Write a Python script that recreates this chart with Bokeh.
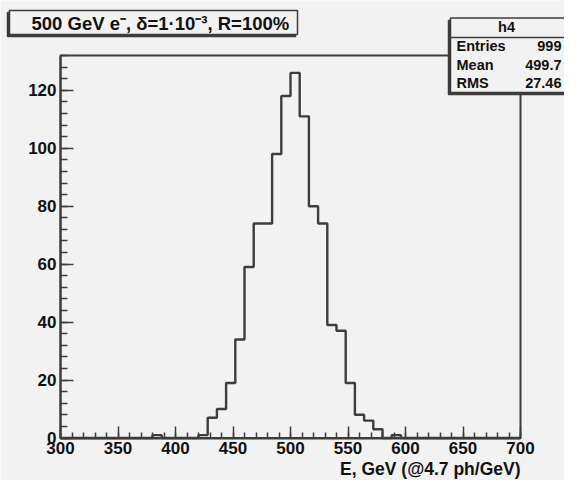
import numpy as np
from bokeh.plotting import figure
from bokeh.models import BoxAnnotation, Label, SingleIntervalTicker, Range1d
from bokeh.embed import file_html
from bokeh.resources import INLINE

# ---- data (histogram h4: 50 bins from 300 to 700 GeV) ----
x_low, x_high, n_bins = 300, 700, 50
y_top = 132
counts = [0, 0, 0, 0, 0, 0, 0, 0, 0, 0,
          1, 0, 0, 0, 0, 1, 7, 10, 19, 34,
          59, 74, 74, 98, 118, 126, 111, 80, 74, 39,
          37, 19, 8, 6, 3, 0, 1, 0, 0, 0,
          0, 0, 0, 0, 0, 0, 0, 0, 0, 0]
title_text = "500 GeV e\u207b, \u03b4=1\u00b710\u207b\u00b3, R=100%"
hist_name = "h4"
stat_names = ["Entries", "Mean", "RMS"]
stat_values = ["999", "499.7", "27.46"]
x_title = "E, GeV (@4.7 ph/GeV)"

edges = np.linspace(x_low, x_high, n_bins + 1)
step_y = list(counts) + [counts[-1]]

# ---- layout (canvas pixels, y downward) ----
W, H = 564, 480
FL, FR, FT, FB = 60.0, 520.0, 55.0, 437.5      # histogram frame
kx = (FR - FL) / (x_high - x_low)
ky = (FB - FT) / y_top
xr = Range1d(x_low - FL / kx, x_high + (W - FR) / kx)
yr = Range1d(0 - (H - FB) / ky, y_top + FT / ky)

BG = "#f2f2f2"
LINE = "#3d3d3d"
TXT = "#111111"
FONT = "Liberation Sans"

p = figure(width=W, height=H, x_range=xr, y_range=yr,
           output_backend="svg", toolbar_location=None,
           min_border=0, min_border_left=0, min_border_right=0,
           min_border_top=0, min_border_bottom=0)
p.background_fill_color = BG
p.border_fill_color = BG
p.outline_line_color = None
p.xgrid.visible = False
p.ygrid.visible = False

p.xaxis.fixed_location = 0
p.xaxis.bounds = (x_low, x_high)
p.yaxis.fixed_location = x_low
p.yaxis.bounds = (0, y_top)
p.xaxis.ticker = SingleIntervalTicker(interval=50, num_minor_ticks=5)
p.yaxis.ticker = SingleIntervalTicker(interval=20, num_minor_ticks=5)
for ax, tin, tmin in ((p.xaxis, 12, 6), (p.yaxis, 13, 7)):
    ax.major_tick_in = tin
    ax.major_tick_out = 0
    ax.minor_tick_in = tmin
    ax.minor_tick_out = 0
    ax.axis_line_color = LINE
    ax.axis_line_width = 2
    ax.major_tick_line_color = LINE
    ax.major_tick_line_width = 1.5
    ax.minor_tick_line_color = LINE
    ax.minor_tick_line_width = 1.5
    ax.major_label_text_font = FONT
    ax.major_label_text_font_style = "bold"
    ax.major_label_text_font_size = "17px"
    ax.major_label_text_color = TXT
p.xaxis.major_label_standoff = 4
p.yaxis.major_label_standoff = 4

# frame box in data units
p.add_layout(BoxAnnotation(left=x_low, right=x_high, bottom=0, top=y_top,
                           fill_alpha=0, line_color=LINE, line_width=2,
                           line_alpha=1, level="underlay"))

p.step(x=edges, y=step_y, mode="after", line_color=LINE, line_width=2.4)


def box(l, r, t, b, fill, line, lw=1.5):
    # canvas px (y down) -> screen units (frame == canvas, y up)
    return BoxAnnotation(left=l, right=r, top=H - t, bottom=H - b,
                         left_units="screen", right_units="screen",
                         top_units="screen", bottom_units="screen",
                         fill_color=fill if fill else "white",
                         fill_alpha=1 if fill else 0,
                         line_color=line, line_width=lw, line_alpha=1)


def label(x, y, text, size, align="left"):
    return Label(x=x, y=H - y, x_units="screen", y_units="screen",
                 text=text, text_font=FONT, text_font_style="bold",
                 text_font_size=size, text_color=TXT,
                 text_align=align, text_baseline="middle")


# title box
p.add_layout(box(7, 295, 12, 36, LINE, LINE))
p.add_layout(box(9, 297, 10, 34, BG, LINE))
p.add_layout(label(31, 22.5, title_text, "18.5px"))

# stats box
p.add_layout(box(448, 566, 20, 94, LINE, LINE))
p.add_layout(box(450, 568, 17.5, 92, BG, LINE))
p.add_layout(box(450, 568, 37, 37, None, LINE))
p.add_layout(label(506, 26.5, hist_name, "14.5px", "center"))
for name, val, yc in zip(stat_names, stat_values, [45, 64.5, 82.5]):
    p.add_layout(label(456, yc, name, "14.5px"))
    p.add_layout(label(561, yc, val, "14.5px", "right"))

# x-axis title, right aligned at the frame edge
p.add_layout(label(FR, 468, x_title, "17.5px", "right"))

open("out.html", "w").write(file_html(p, INLINE))
